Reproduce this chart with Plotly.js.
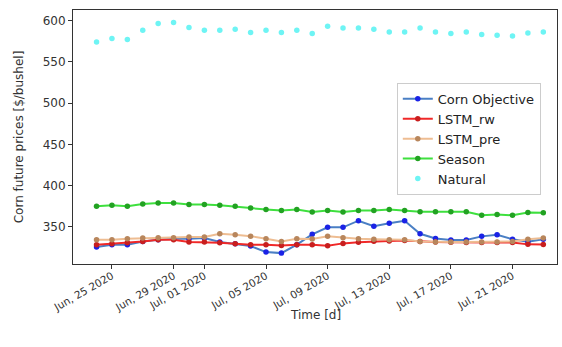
<!DOCTYPE html>
<html>
<head>
<meta charset="utf-8">
<script src="https://cdn.plot.ly/plotly-3.0.1.min.js"></script>
<style>html,body{margin:0;padding:0;background:#fff;}#chart{width:562px;height:347px;}</style>
</head>
<body>
<div id="chart"></div>
<script>
const dates = ['2020-06-24','2020-06-25','2020-06-26','2020-06-27','2020-06-28','2020-06-29','2020-06-30',
  '2020-07-01','2020-07-02','2020-07-03','2020-07-04','2020-07-05','2020-07-06','2020-07-07','2020-07-08',
  '2020-07-09','2020-07-10','2020-07-11','2020-07-12','2020-07-13','2020-07-14','2020-07-15','2020-07-16',
  '2020-07-17','2020-07-18','2020-07-19','2020-07-20','2020-07-21','2020-07-22','2020-07-23'];
const cornObjective = [325.5,328.4,328.4,332.4,334.5,335.7,335.7,336.4,331.6,329.6,326.7,319.4,318.2,328.4,341.0,349.5,349.5,357.5,350.8,354.3,357.5,341.7,336.0,334.0,334.0,338.5,340.5,335.0,332.0,335.0];
const lstmRw = [328.4,329.6,330.8,332.4,334.5,334.5,331.6,331.6,330.8,329.6,328.4,328.4,327.5,328.4,328.4,327.0,330.0,331.5,332.5,333.0,333.5,332.4,331.6,331.4,331.0,331.0,331.0,331.0,328.8,328.5];
const lstmPre = [334.4,334.4,335.7,336.4,336.9,336.9,337.7,337.7,341.7,340.5,338.8,335.7,332.4,335.7,335.2,338.5,336.9,335.7,335.0,334.5,334.4,332.4,331.6,331.6,331.6,331.6,331.8,332.4,335.0,336.6];
const season = [374.9,376.1,374.9,377.7,378.9,378.9,377.3,377.3,376.1,374.9,372.8,371.2,370.0,371.2,368.0,370.0,368.0,370.0,370.0,371.2,370.0,368.4,368.4,368.4,368.4,364.0,365.0,364.0,367.4,367.0];
const natural = [574.3,578.4,577.2,588.5,596.6,597.8,591.7,588.5,588.5,589.7,585.7,588.5,585.7,588.5,584.5,593.3,591.3,591.3,589.7,586.4,586.4,591.3,586.4,584.5,586.4,583.3,582.4,581.6,585.2,586.4];
const tickDates = ['2020-06-25','2020-06-29','2020-07-01','2020-07-05','2020-07-09','2020-07-13','2020-07-17','2020-07-21'];
const tickLabels = ['Jun, 25 2020','Jun, 29 2020','Jul, 01 2020','Jul, 05 2020','Jul, 09 2020','Jul, 13 2020','Jul, 17 2020','Jul, 21 2020'];
const yTicks = [350,400,450,500,550,600];

const font = 'DejaVu Sans, sans-serif';
function lineTrace(name, y, lineColor, markerColor) {
  return {x: dates, y: y, name: name, type: 'scatter', mode: 'lines+markers',
    line: {color: lineColor, width: 2}, marker: {color: markerColor, size: 5.5}};
}
const traces = [
  lineTrace('Corn Objective', cornObjective, '#4a7fc4', '#1a22e6'),
  lineTrace('LSTM_rw', lstmRw, '#f02828', '#c81e1e'),
  lineTrace('LSTM_pre', lstmPre, '#eebd92', '#b8865c'),
  lineTrace('Season', season, '#3ee03e', '#22a222'),
  {x: dates, y: natural, name: 'Natural', type: 'scatter', mode: 'markers',
    marker: {color: '#6ef4f4', size: 5.5}}
];
const layout = {
  width: 562, height: 347,
  margin: {l: 73, r: 5, t: 10, b: 83},
  paper_bgcolor: '#fff', plot_bgcolor: '#fff',
  font: {family: font, size: 11, color: '#333'},
  showlegend: true,
  legend: {x: 0.669, y: 0.713, xanchor: 'left', yanchor: 'top',
    bgcolor: 'rgba(255,255,255,0.85)', bordercolor: '#ccc', borderwidth: 1,
    font: {family: font, size: 13, color: '#222'}},
  xaxis: {type: 'date', range: ['2020-06-22 11:20', '2020-07-23 21:20'],
    tickmode: 'array', tickvals: tickDates, ticktext: tickLabels, tickangle: -30,
    ticklabelstandoff: -3,
    ticks: 'outside', ticklen: 4, tickcolor: '#333', showgrid: false, zeroline: false,
    showline: true, mirror: true, linecolor: '#333', linewidth: 1,
    tickfont: {family: font, size: 10.5, color: '#333'}},
  yaxis: {range: [305, 613], tickmode: 'array', tickvals: yTicks,
    ticks: 'outside', ticklen: 4, tickcolor: '#333', showgrid: false, zeroline: false,
    showline: true, mirror: true, linecolor: '#333', linewidth: 1,
    tickfont: {family: font, size: 12, color: '#333'},
    title: {text: 'Corn future prices [$/bushel]', standoff: 16, font: {family: font, size: 12, color: '#333'}}},
  annotations: [{text: 'Time [d]', xref: 'paper', yref: 'paper', x: 0.5, y: -0.2,
    xanchor: 'center', yanchor: 'middle', showarrow: false,
    font: {family: font, size: 12, color: '#333'}}]
};
Plotly.newPlot('chart', traces, layout, {displayModeBar: false, staticPlot: true});
</script>
</body>
</html>
